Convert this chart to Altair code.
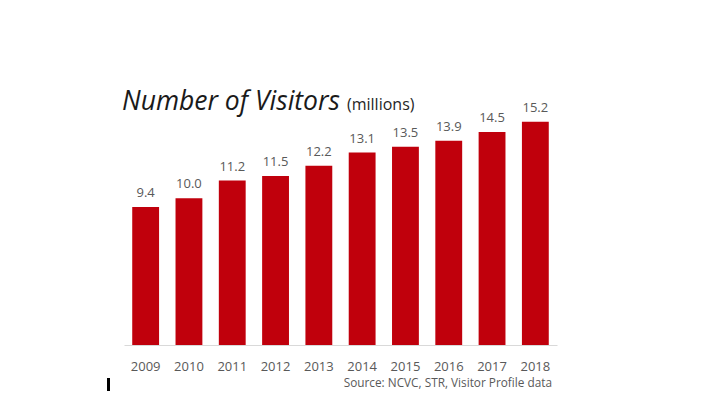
import altair as alt
import pandas as pd

years = ["2009", "2010", "2011", "2012", "2013", "2014", "2015", "2016", "2017", "2018"]
visitors = [9.4, 10.0, 11.2, 11.5, 12.2, 13.1, 13.5, 13.9, 14.5, 15.2]
title_main = "Number of Visitors"
title_unit = "(millions)"
source_note = "Source: NCVC, STR, Visitor Profile data"

df = pd.DataFrame({"year": years, "visitors": visitors})

W, H = 433, 235
FONT = "Open Sans"
GRAY = "#595959"

x = alt.X("year:N", sort=years,
          scale=alt.Scale(paddingInner=0.38, paddingOuter=0.19),
          axis=alt.Axis(title=None, labelAngle=0, ticks=False, domainColor="#d9d9d9",
                        domainWidth=1, labelFont=FONT, labelFontSize=13,
                        labelColor=GRAY, labelPadding=15, grid=False))
y = alt.Y("visitors:Q", scale=alt.Scale(domain=[0, 16]), axis=None)

bars = alt.Chart(df).mark_bar(color="#C0000C").encode(x=x, y=y)
labels = alt.Chart(df).mark_text(dy=-10, baseline="alphabetic", font=FONT,
                                 fontSize=13, color=GRAY).encode(
    x=alt.X("year:N", sort=years), y=y, text=alt.Text("visitors:Q", format=".1f"))

t1 = alt.Chart(pd.DataFrame({"t": [title_main]})).mark_text(
    align="left", baseline="alphabetic", font=FONT, fontStyle="italic",
    fontSize=26.5, color="#1a1a1a").encode(x=alt.value(-2), y=alt.value(0), text="t:N")
t2 = alt.Chart(pd.DataFrame({"t": [title_unit]})).mark_text(
    align="left", baseline="alphabetic", font=FONT,
    fontSize=16, color="#262626").encode(x=alt.value(223), y=alt.value(0), text="t:N")
src = alt.Chart(pd.DataFrame({"t": [source_note]})).mark_text(
    align="right", baseline="alphabetic", font=FONT,
    fontSize=11.8, color=GRAY).encode(x=alt.value(428), y=alt.value(277), text="t:N")
mark = alt.Chart(pd.DataFrame({"t": [0]})).mark_rule(color="black", strokeWidth=3).encode(
    x=alt.value(-15.5), y=alt.value(268), y2=alt.value(283))

chart = alt.layer(bars, labels, t1, t2, src, mark).properties(
    width=W, height=H,
    autosize=alt.AutoSizeParams(type="none"),
    padding={"left": 116, "top": 102, "right": 140, "bottom": 46},
    background="white",
).configure_view(stroke=None)

chart.save("out.html", embed_options={"renderer": "svg", "actions": False})
